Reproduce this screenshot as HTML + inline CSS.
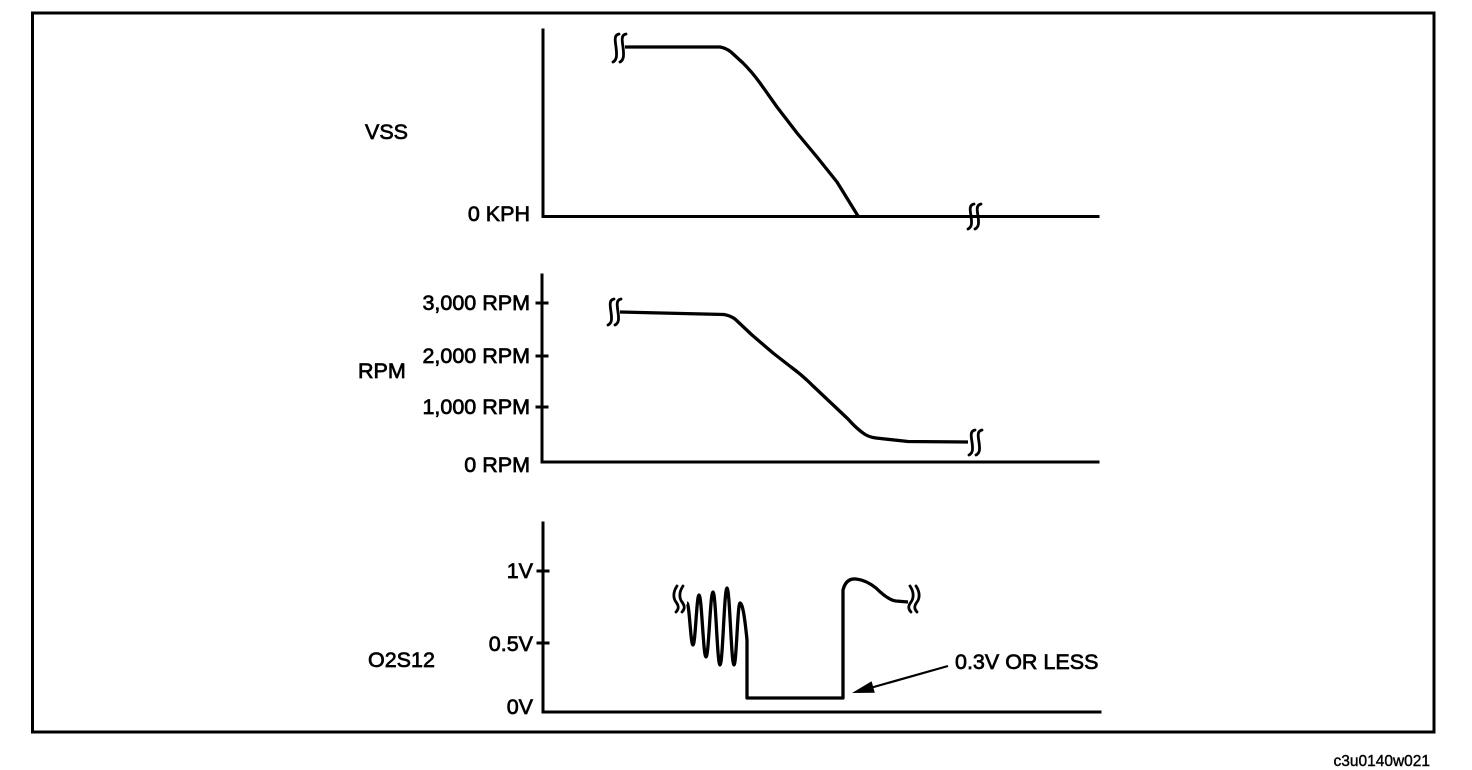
<!DOCTYPE html>
<html>
<head>
<meta charset="utf-8">
<style>
  html, body { margin: 0; padding: 0; background: #fff; }
  svg { display: block; }
  text { font-family: "Liberation Sans", Arial, sans-serif; fill: #000; }
  .lbl { font-size: 21.5px; stroke: #000; stroke-width: 0.7px; }
</style>
</head>
<body>
<svg width="1472" height="770" viewBox="0 0 1472 770" xmlns="http://www.w3.org/2000/svg">
  <!-- border -->
  <rect x="32.5" y="13" width="1401.5" height="719" fill="none" stroke="#000" stroke-width="3"/>

  <!-- ===== VSS ===== -->
  <g stroke="#000" stroke-width="3" fill="none" stroke-linecap="square">
    <line x1="543" y1="30" x2="543" y2="216.5"/>
    <line x1="543" y1="216.5" x2="1098" y2="216.5"/>
  </g>
  <path d="M625 47 L720 47 Q726 48 731 52 L743 63 Q752 72 760 83 L777 107 L797 133 L817 157 L837 182 L858 216"
        stroke="#000" stroke-width="3.3" fill="none" stroke-linejoin="round"/>
  <!-- break marks -->
  <g stroke="#000" stroke-width="2.8" fill="none" stroke-linecap="round">
    <path d="M619 34 C614 35 615 40 616 47 C617 55 617 60 613 62"/>
    <path d="M626 34 C621 35 622 40 623 47 C624 55 624 60 620 62"/>
    <path d="M974 204 C969 205 970 210 971 216 C972 223 972 227 968 229"/>
    <path d="M981 204 C976 205 977 210 978 216 C979 223 979 227 975 229"/>
  </g>
  <text class="lbl" x="365" y="139">VSS</text>
  <text class="lbl" x="530" y="221" text-anchor="end">0 KPH</text>

  <!-- ===== RPM ===== -->
  <g stroke="#000" stroke-width="3" fill="none" stroke-linecap="square">
    <line x1="542" y1="275" x2="542" y2="462"/>
    <line x1="542" y1="462" x2="1098" y2="462"/>
    <line x1="537" y1="303" x2="547" y2="303"/>
    <line x1="537" y1="356" x2="547" y2="356"/>
    <line x1="537" y1="407" x2="547" y2="407"/>
  </g>
  <path d="M620 312 L724 314.5 Q730 315.5 735 319 L752 335 L773 353 L791 367 Q802 375 812 385 L830 402 L848 419 Q856 428 863 433 Q868 437 876 438 L908 441.5 L968 442"
        stroke="#000" stroke-width="3.3" fill="none" stroke-linejoin="round"/>
  <g stroke="#000" stroke-width="2.8" fill="none" stroke-linecap="round">
    <path d="M614 299 C609 300 610 305 611 312 C612 319 612 323 608 325"/>
    <path d="M621 299 C616 300 617 305 618 312 C619 319 619 323 615 325"/>
    <path d="M975 430 C970 431 971 436 972 442 C973 449 973 453 969 455"/>
    <path d="M982 430 C977 431 978 436 979 442 C980 449 980 453 976 455"/>
  </g>
  <text class="lbl" x="530" y="310" text-anchor="end">3,000 RPM</text>
  <text class="lbl" x="530" y="363" text-anchor="end">2,000 RPM</text>
  <text class="lbl" x="530" y="414" text-anchor="end">1,000 RPM</text>
  <text class="lbl" x="530" y="472" text-anchor="end">0 RPM</text>
  <text class="lbl" x="358" y="378">RPM</text>

  <!-- ===== O2S12 ===== -->
  <g stroke="#000" stroke-width="3" fill="none" stroke-linecap="square">
    <line x1="543" y1="523" x2="543" y2="712"/>
    <line x1="543" y1="712" x2="1100" y2="712"/>
    <line x1="538" y1="571" x2="548" y2="571"/>
    <line x1="538" y1="643" x2="548" y2="643"/>
  </g>
  <path d="M687 603 C689.4 603 690.6 645 693 645 C695.4 645 696.6 595 699 595 C701.8 595 703.2 657 706 657 C708.8 657 710.2 592 713 592 C715.8 592 717.2 665 720 665 C722.8 665 724.2 588 727 588 C729.8 588 731.2 665 734 665 C736.4 665 737.6 603 740 603 C742.8 603 745 620 747 640 L747 698 L843 698 L843 590 Q846 578 856 579 Q866 580 876 588 Q888 600 896 601 L908 602"
        stroke="#000" stroke-width="3.3" fill="none" stroke-linejoin="round"/>
  <g stroke="#000" stroke-width="2.8" fill="none" stroke-linecap="round">
    <path d="M677 586 C673 592 673 598 676 602 C679 606 679 609 676 612"/>
    <path d="M683 586 C679 592 679 598 682 602 C685 606 685 609 682 612"/>
    <path d="M910 586 C914 592 914 598 911 602 C908 606 908 609 911 612"/>
    <path d="M916 586 C920 592 920 598 917 602 C914 606 914 609 917 612"/>
  </g>
  <!-- arrow -->
  <line x1="948" y1="666" x2="872" y2="687.5" stroke="#000" stroke-width="2.2"/>
  <polygon points="852,693 874.8,692.8 871.6,681.2" fill="#000"/>

  <text class="lbl" x="533" y="578" text-anchor="end">1V</text>
  <text class="lbl" x="533" y="651" text-anchor="end">0.5V</text>
  <text class="lbl" x="533" y="714" text-anchor="end">0V</text>
  <text class="lbl" x="368" y="667">O2S12</text>
  <text class="lbl" x="955" y="669">0.3V OR LESS</text>

  <!-- footer -->
  <text x="1430" y="766" text-anchor="end" style="font-size:15.5px; stroke:#000; stroke-width:0.4px;">c3u0140w021</text>
</svg>
</body>
</html>
